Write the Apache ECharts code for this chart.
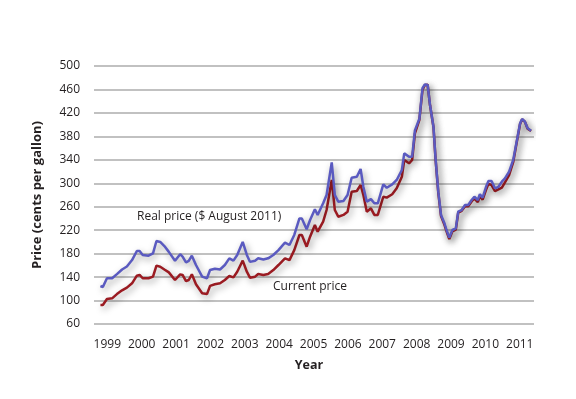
<!DOCTYPE html>
<html>
<head>
<meta charset="utf-8">
<script src="https://cdn.jsdelivr.net/npm/echarts@6/dist/echarts.min.js"></script>
<style>
html,body{margin:0;padding:0;background:#fff;}
#chart{width:576px;height:399px;}
</style>
</head>
<body>
<div id="chart"></div>
<script>
// Time positions (fractional years)
const years = [1998.80,1998.87,1998.99,1999.14,1999.28,1999.43,1999.57,1999.72,1999.86,1999.94,
2000.03,2000.20,2000.33,2000.43,2000.54,2000.66,2000.79,2000.97,2001.12,2001.19,
2001.29,2001.37,2001.46,2001.58,2001.76,2001.90,2001.99,2002.13,2002.28,2002.42,
2002.55,2002.67,2002.78,2002.94,2003.06,2003.15,2003.30,2003.39,2003.54,2003.68,
2003.83,2003.98,2004.17,2004.30,2004.44,2004.59,2004.66,2004.80,2004.90,2005.04,
2005.12,2005.28,2005.38,2005.53,2005.62,2005.72,2005.87,2005.99,2006.11,2006.26,
2006.37,2006.45,2006.55,2006.67,2006.77,2006.87,2007.03,2007.13,2007.29,2007.42,
2007.57,2007.64,2007.78,2007.87,2007.95,2008.08,2008.17,2008.24,2008.32,2008.39,
2008.49,2008.55,2008.63,2008.71,2008.81,2008.87,2008.95,2009.04,2009.14,2009.21,
2009.31,2009.41,2009.50,2009.60,2009.68,2009.78,2009.84,2009.92,2010.02,2010.09,
2010.18,2010.28,2010.38,2010.48,2010.57,2010.69,2010.81,2010.91,2011.01,2011.07,
2011.15,2011.23,2011.33];

// Real price ($ August 2011), cents per gallon
const realPrice = [124.8,123,138,138,145,153,158,169,184.5,184.5,
177.7,176.5,180.5,201.5,200,193,183,168,179,175,
165,167.5,176.5,160.6,140.7,138,152,154.3,153,160.6,
172,168,177.7,200,177.7,166,168,172,170,172,
177.7,186,198.7,194.7,211.8,240,240,221.5,237.4,255.6,
246,265.8,280,335.7,280,268.6,269.7,280,309.5,311.2,
324.3,294,268.6,273,265.8,265.8,298,292.4,298,305.6,
322.6,351,345.3,345.3,390,410,462,468.5,467.6,433.5,
396.5,342.6,285.6,246,231.7,220.3,207.2,220.3,223,251.5,
254.4,263,263,271.5,277,271.5,281.2,275.5,294,303.8,
303.8,291.4,294,302.7,308.4,319.7,339.7,370.9,402.2,409.6,
405,393.7,389.6];

// Current price, cents per gallon
const currentPrice = [92.4,92.4,102.6,103.8,111,117.4,122,129.4,142.4,143.6,
138,138,140.7,159.5,157.7,153,148,135,144.7,143.6,
133.3,135,144.7,127.7,112.4,111,125,127.7,129.4,135,
141.8,139.6,149.2,168,149.2,139,140.7,145.3,143.6,145.3,
152,160.6,172,169,186,211.8,211.8,191.8,208.9,228.8,
217.4,234.5,254.4,305.6,254.4,243,246,251.5,285.6,286.8,
297,280,251.5,257.3,246,246,277,275.5,281.2,291.4,
311.2,339.7,334,339.7,385,408,459,467.6,468,433,
396,342,284,244,229,218,205,218,221,250,
253,261,261,269,274,268,278,272,289,299,
297,286.8,289.5,292.4,301.6,314,336,369,401,409,
405,393,389];

const yearTicks = [1999,2000,2001,2002,2003,2004,2005,2006,2007,2008,2009,2010,2011];

const realSeries = years.map((t, i) => [t, realPrice[i]]);
const currentSeries = years.map((t, i) => [t, currentPrice[i]]);

const chart = echarts.init(document.getElementById('chart'), null, {renderer: 'canvas'});
const FONT = '"Open Sans", "Noto Sans", sans-serif';
const TXT = '#231f20';

chart.setOption({
  animation: false,
  backgroundColor: '#ffffff',
  grid: {left: 94, right: 42, top: 66, bottom: 75},
  xAxis: {
    type: 'value',
    min: 1998.613,
    max: 2011.415,
    name: 'Year',
    nameLocation: 'middle',
    nameGap: 35,
    nameTextStyle: {fontFamily: FONT, fontWeight: 'bold', fontSize: 12.5, color: TXT, padding: [0, 10, 0, 0]},
    axisLine: {show: false},
    axisTick: {show: false},
    splitLine: {show: false},
    axisLabel: {
      customValues: yearTicks,
      formatter: v => String(Math.round(v)),
      fontFamily: FONT, fontSize: 12, color: TXT, margin: 15
    }
  },
  yAxis: {
    type: 'value',
    min: 60,
    max: 500,
    interval: 40,
    name: 'Price (cents per gallon)',
    nameLocation: 'middle',
    nameGap: 50,
    nameTextStyle: {fontFamily: FONT, fontWeight: 'bold', fontSize: 13, color: TXT},
    axisLine: {show: false},
    axisTick: {show: false},
    axisLabel: {fontFamily: FONT, fontSize: 12, color: TXT, margin: 14},
    splitLine: {lineStyle: {color: '#adadad', width: 1.6}}
  },
  series: [
    {
      name: 'Current price',
      type: 'line',
      data: currentSeries,
      showSymbol: false,
      smooth: false,
      lineStyle: {color: '#9b1b22', width: 2.5, shadowColor: 'rgba(0,0,0,0.4)', shadowBlur: 7, shadowOffsetX: 2, shadowOffsetY: 3},
      itemStyle: {color: '#9b1b22'}
    },
    {
      name: 'Real price ($ August 2011)',
      type: 'line',
      data: realSeries,
      showSymbol: false,
      smooth: false,
      lineStyle: {color: '#5a5ac0', width: 2.5, shadowColor: 'rgba(0,0,0,0.4)', shadowBlur: 7, shadowOffsetX: 2, shadowOffsetY: 3},
      itemStyle: {color: '#5a5ac0'}
    }
  ],
  graphic: [
    {type: 'text', left: 137, top: 211, style: {text: 'Real price ($ August 2011)', font: '12px ' + FONT, fill: TXT}},
    {type: 'text', left: 273, top: 281, style: {text: 'Current price', font: '12px ' + FONT, fill: TXT}}
  ]
});
</script>
</body>
</html>
